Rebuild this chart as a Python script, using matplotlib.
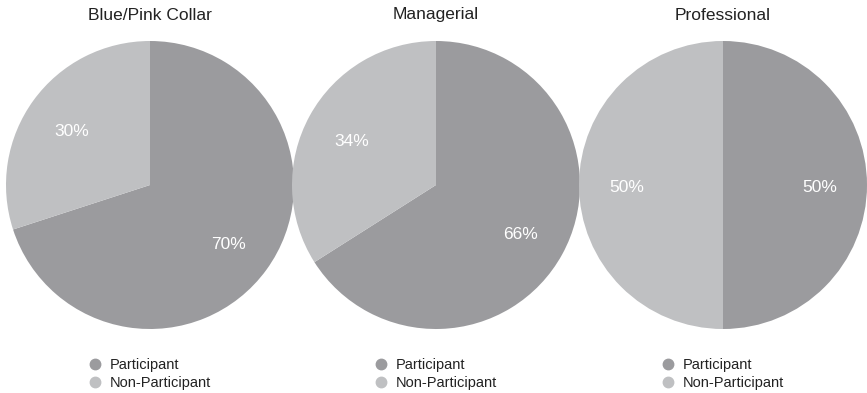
import matplotlib
matplotlib.use("Agg")
import matplotlib.pyplot as plt
from matplotlib.lines import Line2D

plt.rcParams['font.family'] = ['Liberation Sans', 'DejaVu Sans']

# Share of each occupation group by participation status (%)
groups = ["Blue/Pink Collar", "Managerial", "Professional"]
participant = [70, 66, 50]
non_participant = [30, 34, 50]
legend_labels = ["Participant", "Non-Participant"]

colors = ["#9b9b9e", "#bfc0c2"]

W, H = 867, 393
fig = plt.figure(figsize=(W / 100, H / 100), dpi=100)

centers_x = [150, 436, 723]
cy, r = 185, 144

for cx, name, p, n in zip(centers_x, groups, participant, non_participant):
    ax = fig.add_axes([(cx - r) / W, (H - cy - r) / H, 2 * r / W, 2 * r / H])
    wedges, texts, autotexts = ax.pie(
        [p, n], colors=colors, startangle=90, counterclock=False,
        autopct="%d%%", pctdistance=0.67,
        textprops=dict(color="white", fontsize=12.5))
    # nudge the percentage labels down a touch
    for t in autotexts:
        x, y = t.get_position()
        t.set_position((x, y - 0.02))
    ax.set_aspect("equal")
    ax.set_xlim(-1, 1)
    ax.set_ylim(-1, 1)
    fig.text(cx / W, 1 - 15 / H, name, ha="center", va="center",
             fontsize=12.5, color="#222222")

    handles = [Line2D([], [], marker="o", linestyle="none", markersize=7.5,
                      markerfacecolor=c, markeredgecolor=c) for c in colors]
    fig.legend(handles, legend_labels, loc="upper left",
               bbox_to_anchor=((cx - 72) / W, 1 - 352 / H),
               frameon=False, fontsize=10.5, handletextpad=0.25,
               labelspacing=0.3, borderaxespad=0, handlelength=1.5,
               labelcolor="#222222")

fig.savefig("out.png", dpi=100)
